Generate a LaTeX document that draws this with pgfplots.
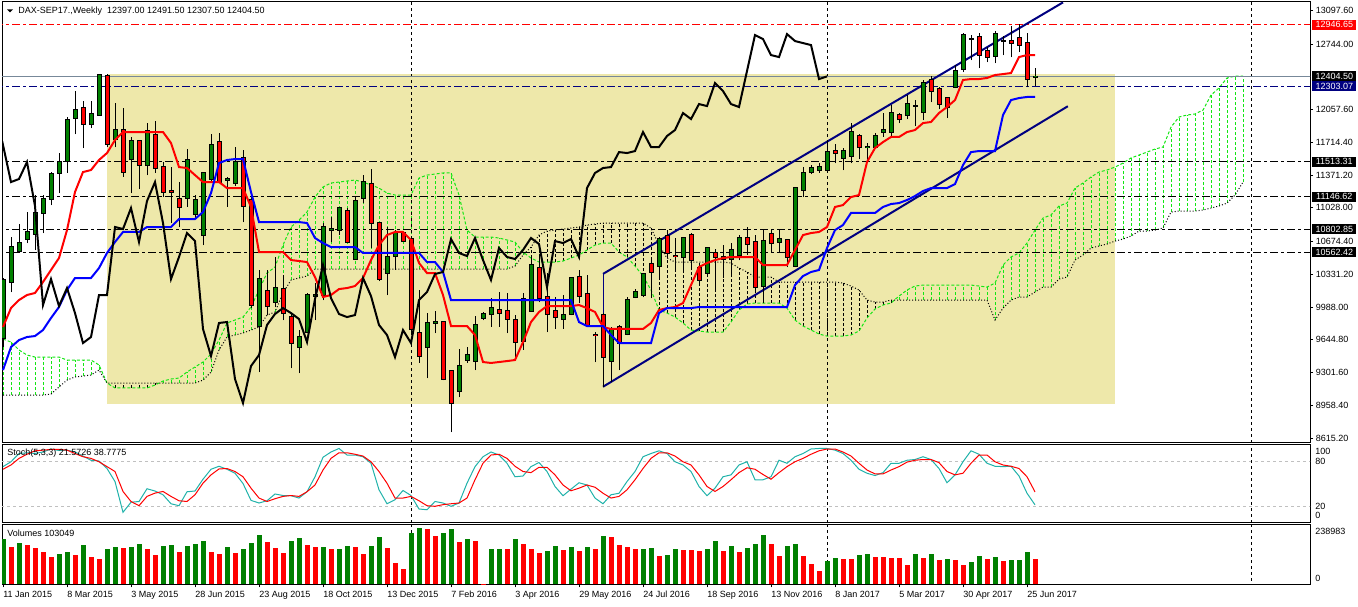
\documentclass[border=0pt]{standalone}
\usepackage{fontspec}
\setmainfont{Liberation Sans}
\usepackage{pgfplots}
\usepackage{pgfplotstable}
\pgfplotsset{compat=1.18}
\definecolor{mtgreen}{RGB}{0,128,0}
\definecolor{mtred}{RGB}{255,0,0}
\definecolor{mtblue}{RGB}{0,0,255}
\definecolor{navyc}{RGB}{0,0,128}
\definecolor{kumog}{RGB}{20,230,20}
\definecolor{pgold}{RGB}{238,232,170}
\definecolor{lsg}{RGB}{32,178,170}
\definecolor{slate}{RGB}{119,136,153}
\definecolor{silverc}{RGB}{192,192,192}
\newcommand{\mt}{\fontsize{6.75}{8}\selectfont}

\pgfplotstableread{
i O H L C
0 9664 10293 9570 10272
1 10251 10722 10146 10617
2 10576 10858 10555 10659
3 10701 10984 10659 10775
4 10754 11162 10586 10974
5 10974 11162 10764 11120
6 11120 11403 11057 11382
7 11393 11602 11183 11508
8 11518 11979 11393 11948
9 11969 12251 11801 12052
10 12073 12147 11654 11906
11 11906 12147 11864 12011
12 12000 12429 11990 12419
13 12408 12429 11665 11696
14 11749 12126 11665 11843
15 11843 12073 11351 11403
16 11539 11770 11183 11728
17 11728 11738 11225 11476
18 11476 11916 11371 11832
19 11790 11937 11393 11445
20 11455 11508 11141 11194
21 11204 11455 10869 11194
22 11120 11298 10827 11037
23 11131 11644 11037 11529
24 10963 11162 10911 11110
25 10743 11403 10638 11393
26 11330 11801 11298 11686
27 11717 11811 11288 11298
28 11319 11351 11037 11330
29 11288 11665 11256 11508
30 11550 11633 10879 11047
31 11110 11141 9978 10010
32 9790 10377 9308 10282
33 10157 10377 9905 9999
34 10041 10513 9989 10188
35 10177 10324 9853 9926
36 9884 9926 9350 9612
37 9570 9748 9298 9675
38 9727 10136 9717 10115
39 10104 10240 9853 10115
40 10115 10869 10062 10827
41 10795 10932 10670 10806
42 10795 11037 10743 11026
43 10994 11026 10660 10670
44 10492 11141 10481 11099
45 11131 11371 11078 11298
46 11277 11434 10607 10869
47 10869 10879 10261 10282
48 10345 10827 10115 10513
49 10523 10795 10377 10764
50 10764 10775 10670 10680
51 10701 10712 9727 9759
52 9717 10167 9403 9476
53 9570 9926 9245 9822
54 9822 9947 9717 9832
55 9832 9842 9224 9235
56 9319 9329 8680 8984
57 9109 9549 9046 9371
58 9434 9570 9403 9486
59 9423 9895 9329 9801
60 9874 9937 9853 9916
61 9916 10083 9780 9978
62 9958 10146 9780 9926
63 9947 10136 9717 9863
64 9853 9905 9455 9622
65 9633 10136 9539 10073
66 9947 10523 9937 10429
67 10397 10513 10041 10083
68 10094 10345 9727 9916
69 9947 10094 9759 9884
70 9863 10115 9759 9905
71 9916 10303 9905 10293
72 10303 10377 10031 10104
73 10125 10324 9780 9801
74 9700 9727 9413 9696
75 9905 9926 9151 9465
76 9423 9780 9203 9748
77 9780 9801 9329 9612
78 9706 10094 9696 10062
79 10094 10177 10083 10146
80 10115 10345 10094 10335
81 10439 10481 10083 10356
82 10418 10722 10303 10701
83 10733 10795 10502 10555
84 10528 10712 10377 10523
85 10513 10722 10377 10712
86 10743 10764 10377 10481
87 10397 10408 10240 10272
88 10345 10617 10324 10607
89 10555 10597 10167 10513
90 10513 10638 10293 10492
91 10492 10659 10314 10586
92 10534 10743 10481 10712
93 10712 10827 10534 10649
94 10670 10743 10167 10198
95 10209 10795 10031 10680
96 10754 10806 10555 10659
97 10670 10795 10565 10701
98 10691 10701 10408 10513
99 10418 11246 10408 11235
100 11214 11455 11141 11393
101 11403 11476 11382 11445
102 11424 11497 11393 11455
103 11424 11738 11414 11612
104 11623 11696 11497 11602
105 11550 11654 11424 11623
106 11571 11916 11497 11822
107 11780 11801 11539 11665
108 11660 11707 11508 11665
109 11665 11811 11654 11780
110 11822 12021 11770 11843
111 11822 12105 11770 12021
112 12000 12021 11916 11958
113 12000 12209 11958 12115
114 12094 12157 11885 12094
115 12031 12367 11948 12335
116 12367 12408 12136 12251
117 12272 12293 12063 12115
118 12178 12189 11969 12084
119 12293 12524 12283 12461
120 12482 12859 12450 12838
121 12796 12838 12576 12796
122 12817 12859 12492 12628
123 12670 12712 12555 12607
124 12618 12880 12545 12848
125 12775 12827 12628 12775
126 12775 12932 12607 12754
127 12806 12953 12660 12733
128 12754 12859 12293 12377
129 12397 12491.5 12307.5 12404.5
}\candles

\pgfplotstableread{
i T K
0 9780 9329
1 9978 9570
2 10062 9643
3 10115 9675
4 10136 9685
5 10251 9748
6 10377 9874
7 10502 9989
8 10795 10167
9 11194 10293
10 11403 10293
11 11424 10293
12 11529 10397
13 11602 10555
14 11738 10670
15 11822 10775
16 11822 10775
17 11822 10775
18 11822 10827
19 11822 10827
20 11822 10827
21 11707 10827
22 11455 10911
23 11445 10911
24 11371 10911
25 11298 10984
26 11298 11183
27 11298 11497
28 11235 11529
29 11235 11539
30 11235 11539
31 11037 11194
32 10565 10879
33 10565 10879
34 10565 10879
35 10565 10879
36 10481 10879
37 10471 10879
38 10460 10869
39 10303 10712
40 10094 10659
41 10115 10617
42 10177 10617
43 10188 10617
44 10209 10617
45 10293 10555
46 10481 10555
47 10638 10555
48 10743 10555
49 10775 10555
50 10775 10555
51 10691 10555
52 10450 10555
53 10345 10460
54 10345 10460
55 10115 10356
56 9790 10062
57 9790 10062
58 9790 10062
59 9696 10062
60 9413 10062
61 9403 10062
62 9413 10062
63 9423 10062
64 9434 10062
65 9622 10062
66 9832 10062
67 9937 10062
68 9999 10062
69 9999 10062
70 9999 10062
71 9999 10062
72 10010 9832
73 9978 9790
74 9937 9790
75 9780 9790
76 9759 9696
77 9759 9612
78 9759 9612
79 9759 9612
80 9759 9612
81 9822 9612
82 9958 9926
83 9978 9978
84 9989 9978
85 10031 9978
86 10219 9978
87 10408 9989
88 10450 9989
89 10481 9989
90 10502 9989
91 10513 9989
92 10513 9989
93 10513 9989
94 10513 9989
95 10429 9989
96 10429 9989
97 10429 9989
98 10429 9989
99 10586 10219
100 10743 10314
101 10764 10356
102 10775 10377
103 10827 10607
104 11037 10795
105 11057 10848
106 11141 10974
107 11162 10974
108 11508 10974
109 11654 10974
110 11717 11037
111 11770 11068
112 11770 11078
113 11822 11110
114 11843 11152
115 11916 11204
116 11927 11235
117 12021 11235
118 12084 11235
119 12157 11277
120 12367 11476
121 12377 11612
122 12377 11623
123 12388 11623
124 12419 11623
125 12429 12000
126 12440 12157
127 12607 12178
128 12628 12189
129 12628 12189
}\ichi

\pgfplotstableread{
i A B
0 9654 9067
1 9622 9067
2 9539 9067
3 9486 9067
4 9465 9067
5 9465 9067
6 9465 9078
7 9465 9151
8 9434 9224
9 9434 9256
10 9434 9266
11 9434 9277
12 9382 9329
13 9193 9193
14 9141 9193
15 9141 9193
16 9141 9193
17 9141 9193
18 9141 9193
19 9172 9193
20 9214 9193
21 9235 9193
22 9245 9193
23 9308 9193
24 9361 9193
25 9413 9224
26 9497 9308
27 9643 9539
28 9822 9675
29 9853 9696
30 9884 9717
31 9989 9748
32 10167 9780
33 10345 9905
34 10408 9937
35 10638 10136
36 10827 10272
37 10900 10293
38 10984 10314
39 11141 10387
40 11246 10387
41 11288 10387
42 11298 10387
43 11309 10387
44 11319 10387
45 11298 10387
46 11267 10387
47 11235 10387
48 11183 10387
49 11162 10387
50 11162 10387
51 11162 10387
52 11340 10387
53 11371 10387
54 11382 10387
55 11393 10387
56 11393 10387
57 11162 10387
58 10795 10387
59 10722 10387
60 10722 10387
61 10722 10387
62 10712 10387
63 10691 10387
64 10670 10418
65 10565 10534
66 10502 10617
67 10460 10743
68 10460 10785
69 10460 10795
70 10471 10806
71 10502 10816
72 10534 10827
73 10586 10848
74 10638 10858
75 10659 10869
76 10659 10869
77 10565 10869
78 10513 10869
79 10418 10869
80 10314 10869
81 10167 10816
82 9958 10638
83 9926 10502
84 9884 10460
85 9822 10460
86 9748 10460
87 9738 10460
88 9727 10460
89 9727 10460
90 9727 10460
91 9832 10450
92 9958 10397
93 10020 10356
94 10031 10303
95 10031 10303
96 10031 10303
97 10031 10251
98 9978 10251
99 9853 10251
100 9790 10251
101 9748 10251
102 9706 10251
103 9685 10251
104 9685 10251
105 9685 10240
106 9696 10209
107 9738 10167
108 9874 10062
109 9968 10041
110 10010 10041
111 10031 10062
112 10104 10062
113 10167 10062
114 10209 10062
115 10219 10062
116 10219 10062
117 10219 10062
118 10219 10062
119 10219 10062
120 10219 10062
121 10219 10062
122 10209 10062
123 10198 10062
124 10240 9853
125 10429 9978
126 10513 10062
127 10555 10094
128 10659 10094
129 10795 10146
130 10921 10198
131 10953 10198
132 11047 10282
133 11078 10303
134 11235 10481
135 11288 10534
136 11351 10607
137 11403 10628
138 11424 10649
139 11455 10680
140 11497 10701
141 11550 10733
142 11581 10785
143 11612 10785
144 11644 10795
145 11665 10816
146 11874 10984
147 11979 10994
148 12000 10994
149 12011 10994
150 12052 11005
151 12209 11026
152 12283 11047
153 12388 11078
154 12408 11162
155 12408 11298
}\cloud

\pgfplotstableread{
i K D
0 72.5 69
1 79 74.7
2 90 83.5
3 91 89
4 90 93.6
5 92 94.5
6 96 95.4
7 94 95.4
8 94.5 94.5
9 92 90
10 86.6 85.7
11 81 83.5
12 80 79
13 70 72.5
14 52.6 66
15 11.6 39.4
16 25 26
17 26 20.4
18 43 32.8
19 40 37.2
20 35 39.4
21 23 32.8
22 20.4 27
23 39 26
24 40 35
25 55.7 50.4
26 69 61.5
27 73 69.4
28 69 70
29 63.7 66
30 50 59
31 27.5 43.8
32 24 30.6
33 27 26
34 36 29.7
35 34 32.8
36 33.7 34
37 30.6 32.8
38 39 39
39 59 48
40 85 68
41 92 83.5
42 96.7 91
43 88 91
44 88 89
45 85.7 86.6
46 77 79
47 41.6 66
48 23 50.4
49 28.4 30.6
50 40.7 30.6
51 34 32.8
52 16 27
53 15 20.4
54 26 19.6
55 24 21.8
56 19.6 23
57 24 24
58 50.4 30.6
59 72.5 55
60 85.7 77
61 92 88
62 88 89
63 77 83.5
64 59 73
65 60 66
66 72.5 64.5
67 78 71.6
68 66 71.6
69 46 61.5
70 33.7 48
71 42.5 40.3
72 51 43.8
73 48 48
74 30.6 45
75 23 37
76 35 30.6
77 37 32.8
78 52.6 41.6
79 66 55
80 85.7 70
81 90 83.5
82 93.6 91
83 90 91
84 79 86.6
85 74.7 79
86 66 74.7
87 46 61.5
88 33.7 46
89 43.8 39.4
90 59 46
91 61.5 55
92 74.7 64.5
93 79 71
94 55 69
95 55 62
96 59 55.7
97 81 64.5
98 77 72.5
99 85.7 79
100 90 83.5
101 96 89
102 96.7 93.6
103 96.7 96
104 94.5 96
105 90 92
106 81 86.6
107 69 77
108 63.7 68
109 60.6 62.8
110 64.5 62.8
111 77 68
112 77 72.5
113 81 78.5
114 82 81
115 85.7 82
116 82 82
117 70 77.8
118 51 66
119 61.5 61.5
120 79 63.7
121 93.6 77
122 89 88
123 77 88
124 73 79
125 72.5 74.7
126 73 73
127 60 70
128 37 59
129 21.5726 38.7775
}\stoch

\pgfplotstableread{
i V g
0 182650 1
1 147730 0
2 166530 1
3 158470 0
4 143700 0
5 127590 0
6 107440 0
7 122210 1
8 130270 1
9 118180 0
10 158470 1
11 110130 0
12 102070 0
13 139670 1
14 150420 1
15 143700 0
16 147730 1
17 162500 1
18 139670 0
19 118180 0
20 154450 1
21 158470 1
22 130270 0
23 154450 1
24 162500 1
25 174590 1
26 130270 0
27 122210 0
28 150420 1
29 126240 0
30 139670 1
31 166530 1
32 198760 1
33 170560 0
34 143700 0
35 126240 0
36 174590 1
37 186680 1
38 158470 0
39 147730 0
40 150420 1
41 139670 0
42 139900 1
43 154450 1
44 147730 0
45 122210 0
46 154450 1
47 190700 1
48 143700 0
49 85950 0
50 61780 0
51 206820 1
52 226970 1
53 222940 0
54 194730 0
55 206820 1
56 222940 1
57 170560 0
58 182650 1
59 174590 0
60 1500 0
61 142360 1
62 142400 1
63 142300 0
64 182650 1
65 162500 0
66 142360 0
67 126240 0
68 134300 1
69 154450 1
70 138330 0
71 150420 1
72 134300 0
73 150420 1
74 142360 0
75 194730 1
76 190700 0
77 158470 0
78 150420 0
79 142360 0
80 142400 1
81 146390 1
82 114160 0
83 118180 1
84 142360 1
85 138330 0
86 138300 0
87 134300 0
88 142360 1
89 174590 1
90 134300 0
91 154450 1
92 130270 0
93 146390 1
94 162500 1
95 198760 1
96 162500 0
97 114160 0
98 154450 1
99 162500 1
100 114160 0
101 81920 0
102 53720 0
103 94010 1
104 106100 1
105 102070 0
106 102000 0
107 118180 1
108 122210 1
109 110130 0
110 110100 0
111 106100 0
112 106000 0
113 77890 0
114 122210 1
115 106100 0
116 122210 1
117 98040 0
118 102070 1
119 98040 0
120 77890 0
121 89980 1
122 114160 1
123 102070 0
124 110130 1
125 94010 0
126 98040 1
127 98100 1
128 130270 1
129 103049 0
}\vols

\pgfplotsset{
  mtbase/.style={scale only axis, width=981pt, xmin=-0.125, xmax=163.375,
    anchor=north west, axis line style={black, line width=0.75pt},
    clip mode=individual, xtick=\empty, ytick=\empty,
    tick style={black, line width=0.75pt}},
  eb/.style={forget plot, only marks, mark=*, mark size=0pt,
    mark options={draw=none, fill=none},
    error bars/y dir=plus, error bars/y explicit, error bars/error mark=none,
    error bars/error bar style={#1}},
  sep/.style={forget plot, black, line width=0.75pt, dash pattern=on 2.25pt off 2.25pt},
  dashdot/.style={forget plot, line width=0.75pt, dash pattern=on 6pt off 2.25pt on 2.25pt off 2.25pt},
}

\begin{document}
\begin{tikzpicture}
\path[use as bounding box] (0,0) rectangle (1018.5pt,-454.5pt);

% ---------------- main pane ----------------
\begin{axis}[mtbase, at={(1.5pt,-1.5pt)}, height=330.375pt, ymin=8570, ymax=13184,
  ytick={13097.6,12744,12057.6,11714.4,11371.2,11028,10674.4,10331.2,9988,9644.8,9301.6,8958.4,8615.2},
  yticklabels={13097.60,12744.00,12057.60,11714.40,11371.20,11028.00,10674.40,10331.20,9988.00,9644.80,9301.60,8958.40,8615.20},
  ytick pos=right, yticklabel pos=right, tick align=outside, major tick length=2.25pt,
  yticklabel style={font=\mt, inner sep=0pt, xshift=2pt}]

\addplot[forget plot, draw=none, fill=pgold] coordinates {(13,8973) (13,12429) (139,12429) (139,8973)} -- cycle;

% kumo hatching
\addplot[eb={kumog, line width=0.75pt, dash pattern=on 2.25pt off 1.5pt},
  restrict expr to domain={\thisrow{A}-\thisrow{B}}{0:100000}]
  table[x=i, y=B, y error plus expr={\thisrow{A}-\thisrow{B}}] {\cloud};
\addplot[eb={black, line width=0.75pt, dash pattern=on 2.25pt off 1.5pt},
  restrict expr to domain={\thisrow{A}-\thisrow{B}}{-100000:0}]
  table[x=i, y=A, y error plus expr={\thisrow{B}-\thisrow{A}}] {\cloud};
\addplot[forget plot, kumog, line width=0.75pt, dash pattern=on 2.25pt off 1.5pt] table[x=i, y=A] {\cloud};
\addplot[forget plot, black, line width=0.75pt, dash pattern=on 0.75pt off 1.5pt] table[x=i, y=B] {\cloud};

% period separators
\addplot[sep] coordinates {(51,8000) (51,14000)};
\addplot[sep] coordinates {(103,8000) (103,14000)};
\addplot[sep] coordinates {(156,8000) (156,14000)};

% horizontal lines
\addplot[dashdot, mtred] coordinates {(-1,12946.65) (170,12946.65)};
\addplot[forget plot, slate, line width=0.75pt] coordinates {(-1,12404.5) (170,12404.5)};
\addplot[dashdot, navyc] coordinates {(-1,12303.07) (170,12303.07)};
\addplot[dashdot, black] coordinates {(-1,11513.31) (170,11513.31)};
\addplot[dashdot, black] coordinates {(-1,11146.62) (170,11146.62)};
\addplot[dashdot, black] coordinates {(-1,10802.85) (170,10802.85)};
\addplot[dashdot, black] coordinates {(-1,10562.42) (170,10562.42)};

% channel
\addplot[forget plot, navyc, line width=1.5pt] coordinates {(75,10336) (132.5,13180)};
\addplot[forget plot, navyc, line width=1.5pt] coordinates {(75,9154) (133.1,12092)};
\addplot[forget plot, navyc, line width=0.75pt] coordinates {(75,10336) (75,9154)};

% candles
\addplot[eb={black, line width=0.75pt}] table[x=i, y=L, y error plus expr={\thisrow{H}-\thisrow{L}}] {\candles};
\addplot[eb={black, line width=3.75pt}] table[x=i, y expr={min(\thisrow{O},\thisrow{C})-7}, y error plus expr={abs(\thisrow{C}-\thisrow{O})+14}] {\candles};
\addplot[eb={mtgreen, line width=2.25pt}, restrict expr to domain={\thisrow{C}-\thisrow{O}}{0.01:100000}]
  table[x=i, y=O, y error plus expr={\thisrow{C}-\thisrow{O}}] {\candles};
\addplot[eb={mtred, line width=2.25pt}, restrict expr to domain={\thisrow{C}-\thisrow{O}}{-100000:-0.01}]
  table[x=i, y=C, y error plus expr={\thisrow{O}-\thisrow{C}}] {\candles};

% ichimoku lines
\addplot[forget plot, mtred, line width=1.5pt] table[x=i, y=T] {\ichi};
\addplot[forget plot, mtblue, line width=1.5pt] table[x=i, y=K] {\ichi};
\addplot[forget plot, black, line width=1.5pt] table[x expr={\thisrow{i}-26}, y=C] {\candles};
\end{axis}

% ---------------- stochastic pane ----------------
\begin{axis}[mtbase, at={(1.5pt,-333.375pt)}, height=58.125pt, ymin=-1.333, ymax=102]
\addplot[forget plot, silverc, line width=0.75pt, dash pattern=on 2.25pt off 2.25pt] coordinates {(-1,80) (170,80)};
\addplot[forget plot, silverc, line width=0.75pt, dash pattern=on 2.25pt off 2.25pt] coordinates {(-1,20) (170,20)};
\addplot[sep] coordinates {(51,-10) (51,110)};
\addplot[sep] coordinates {(103,-10) (103,110)};
\addplot[sep] coordinates {(156,-10) (156,110)};
\addplot[forget plot, lsg, line width=0.75pt] table[x=i, y=K] {\stoch};
\addplot[forget plot, mtred, line width=0.75pt] table[x=i, y=D] {\stoch};
\end{axis}

% ---------------- volume pane ----------------
\begin{axis}[mtbase, at={(1.5pt,-393.375pt)}, height=44.85pt, ymin=0, ymax=239000,
  xtick={0,8,...,128},
  xticklabels={11 Jan 2015,8 Mar 2015,3 May 2015,28 Jun 2015,23 Aug 2015,18 Oct 2015,13 Dec 2015,7 Feb 2016,3 Apr 2016,29 May 2016,24 Jul 2016,18 Sep 2016,13 Nov 2016,8 Jan 2017,5 Mar 2017,30 Apr 2017,25 Jun 2017},
  xtick pos=bottom, tick align=outside, major tick length=2.25pt,
  xticklabel style={font=\mt, anchor=north west, inner sep=0pt, text height=5pt, text depth=0pt, yshift=-2.25pt}]
\addplot[sep] coordinates {(51,-10000) (51,300000)};
\addplot[sep] coordinates {(103,-10000) (103,300000)};
\addplot[sep] coordinates {(156,-10000) (156,300000)};
\addplot[forget plot, ycomb, mtgreen, line width=3.75pt, restrict expr to domain={\thisrow{g}}{0.5:1.5}] table[x=i, y=V] {\vols};
\addplot[forget plot, ycomb, mtred, line width=3.75pt, restrict expr to domain={\thisrow{g}}{-0.5:0.5}] table[x=i, y=V] {\vols};
\end{axis}

% ---------------- texts in pixel coordinates ----------------
\begin{scope}[x=0.75pt, y=-0.75pt, font=\mt]
\fill (7,9.5) -- (13,9.5) -- (10,12.5) -- cycle;
\node[anchor=west, inner sep=0pt] at (18,11) {DAX-SEP17.,Weekly\ \ 12397.00 12491.50 12307.50 12404.50};
\node[anchor=west, inner sep=0pt] at (7,453.5) {Stoch(5,3,3) 21.5726 38.7775};
\node[anchor=west, inner sep=0pt] at (7,533.5) {Volumes 103049};
\foreach \yy/\tt/\cc in {24.6/12946.65/mtred, 76.4/12404.50/black, 86.2/12303.07/navyc, 161.5/11513.31/black, 196.5/11146.62/black, 229.3/10802.85/black, 252.3/10562.42/black}{
  \node[anchor=west, fill=\cc, text=white, inner sep=0pt, minimum height=7.5pt, minimum width=33pt] at (1312,\yy) {\tt};
}
\node[anchor=west, inner sep=0pt] at (1315,451.7) {100};
\node[anchor=west, inner sep=0pt] at (1315,461.7) {80};
\node[anchor=west, inner sep=0pt] at (1315,506.3) {20};
\node[anchor=west, inner sep=0pt] at (1315,515.7) {0};
\node[anchor=west, inner sep=0pt] at (1315,531) {238983};
\node[anchor=west, inner sep=0pt] at (1315,578) {0};
\end{scope}
\end{tikzpicture}
\end{document}
